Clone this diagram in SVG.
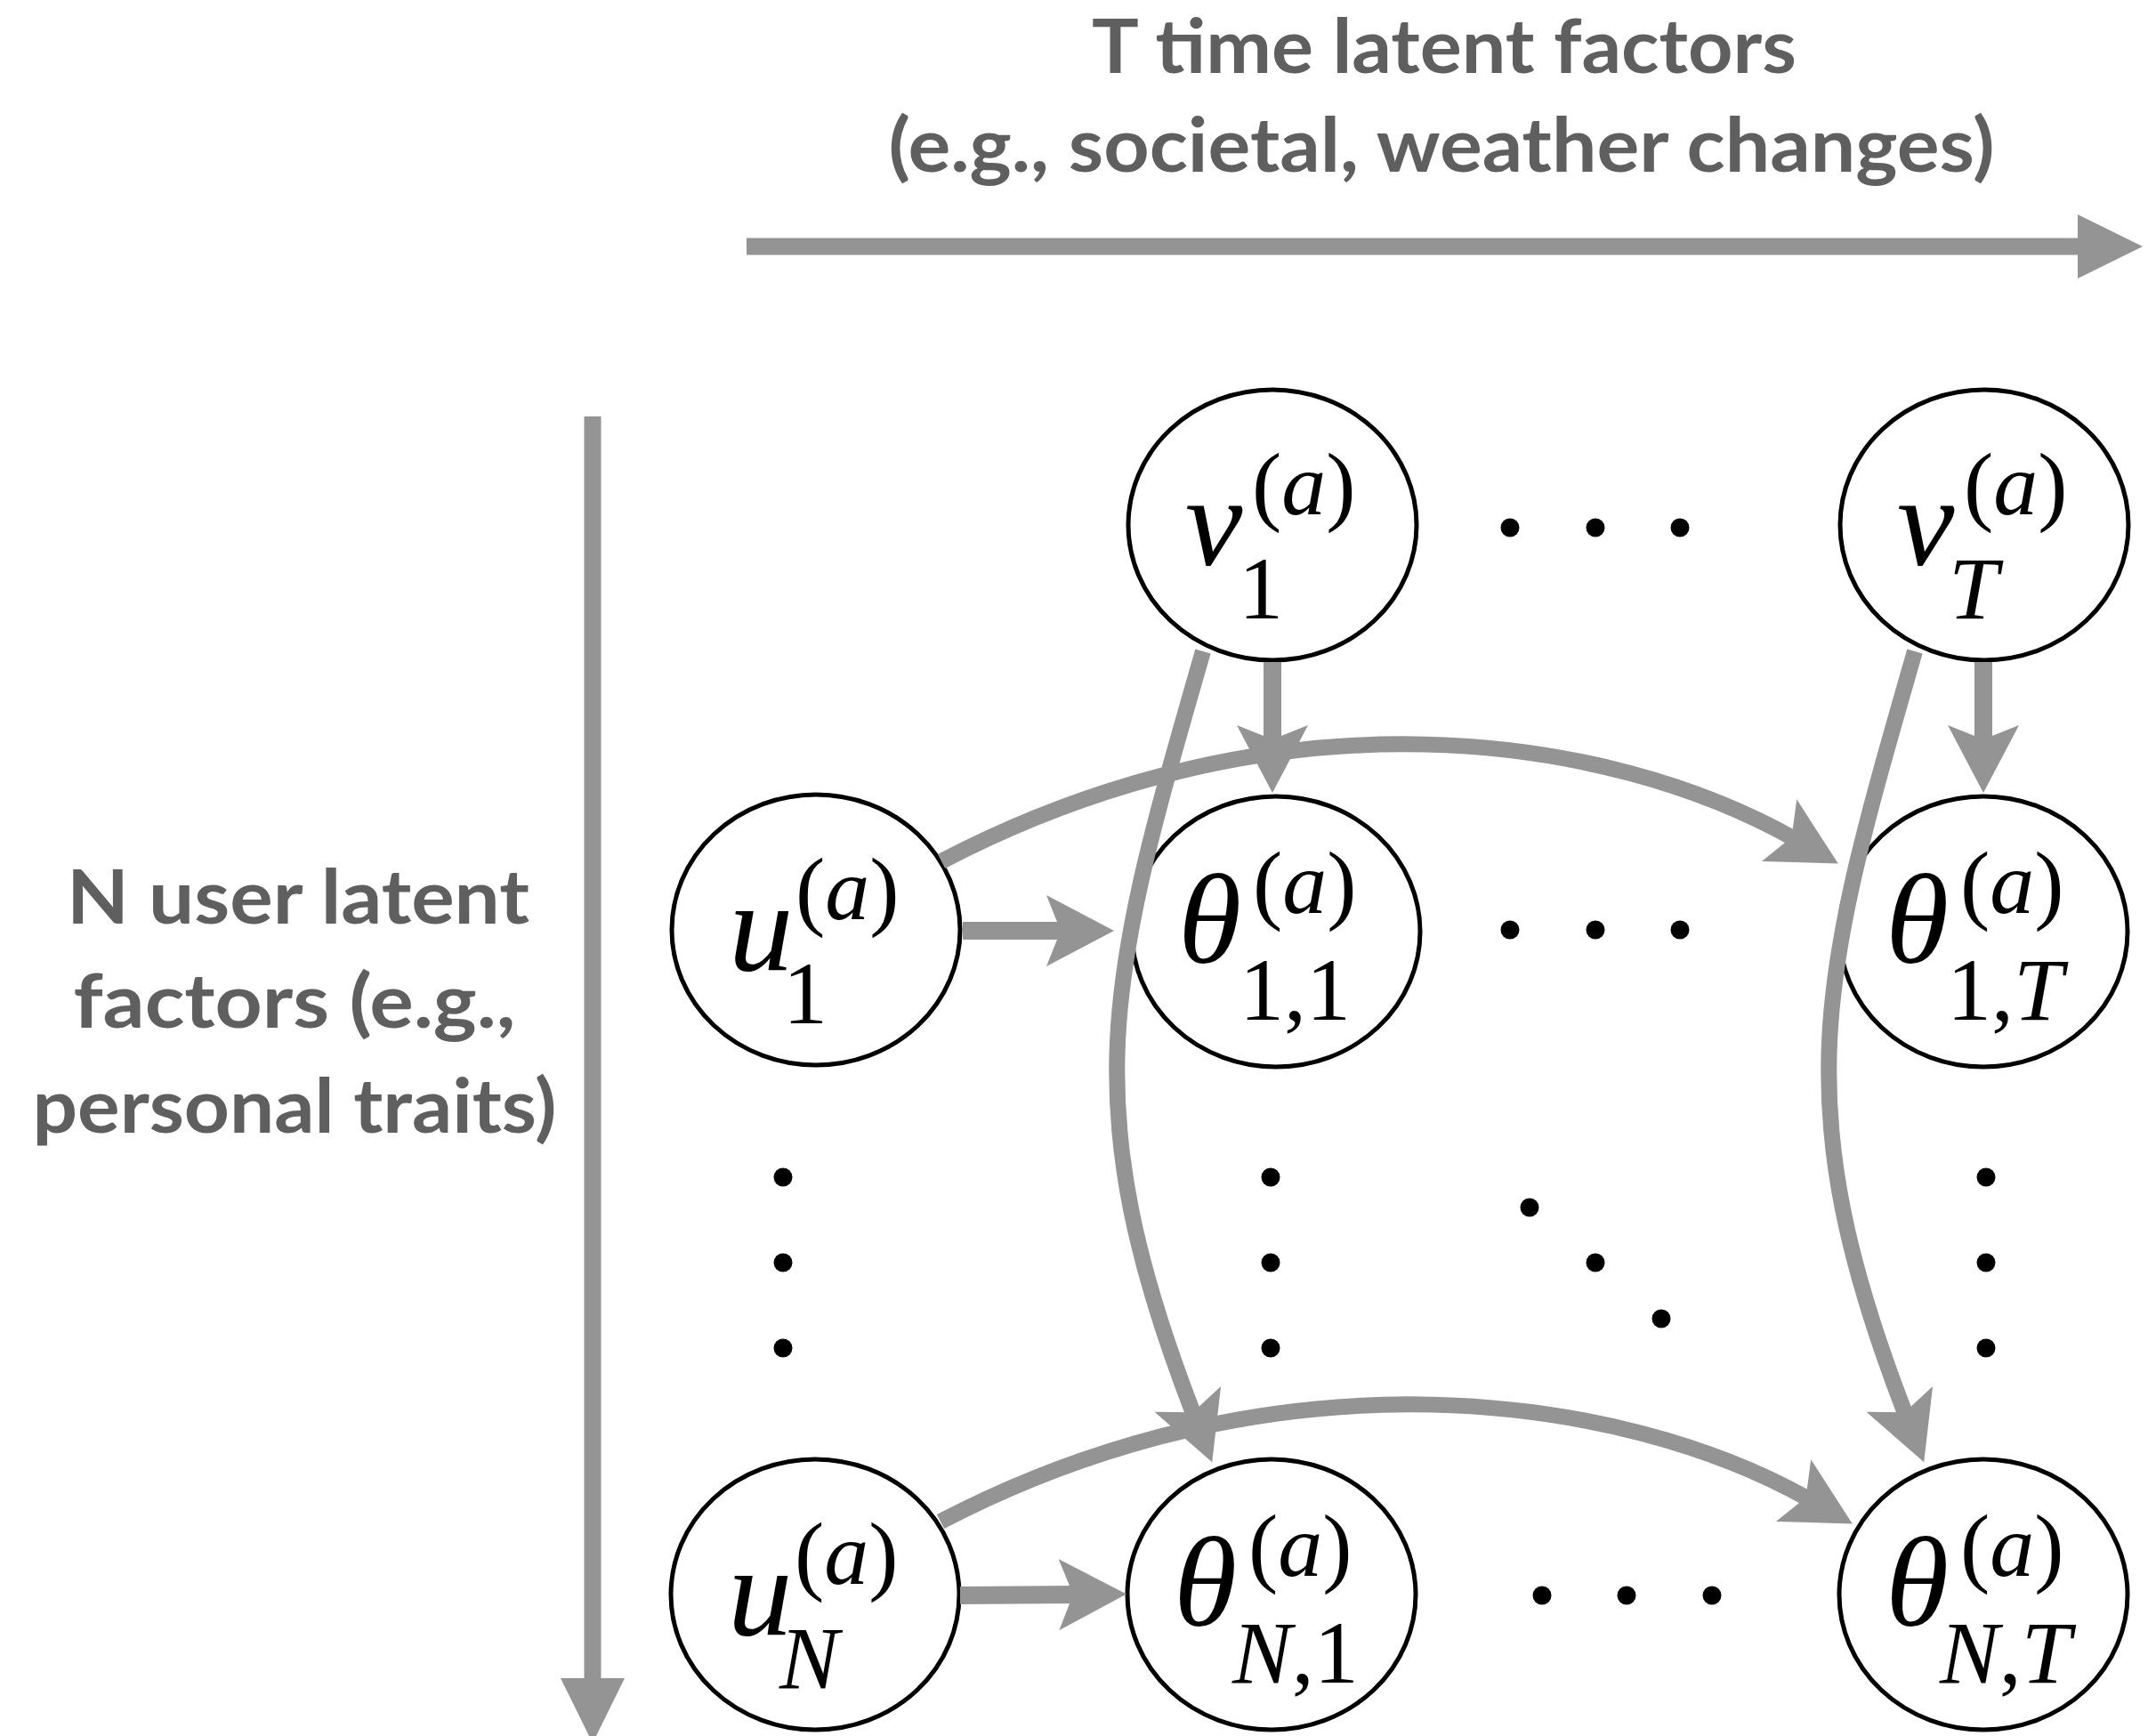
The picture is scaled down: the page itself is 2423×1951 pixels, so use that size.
<svg xmlns="http://www.w3.org/2000/svg" width="2423" height="1951" viewBox="0 0 2423 1951">
<defs>
<style>
.node ellipse{fill:#fff;stroke:#000;stroke-width:5}
.m{font-family:"Liberation Serif","Times New Roman",serif;font-style:italic;font-size:145px;fill:#000}
.s{font-family:"Liberation Serif","Times New Roman",serif;font-size:100px;fill:#000}
.i{font-style:italic}
.lbl{font-family:Lato,"Open Sans",sans-serif;font-weight:700;font-size:84px;fill:#5f5f5f;text-anchor:middle}
.edge{fill:none;stroke:#949494;stroke-width:18;marker-end:url(#head)}
.straight{stroke-width:20}
.axis{fill:none;stroke:#949494;stroke-width:19;marker-end:url(#tri)}
.dot{fill:#000}
</style>
<marker id="head" markerUnits="userSpaceOnUse" markerWidth="80" markerHeight="84" viewBox="0 -42 80 84" refX="20" refY="0" orient="auto">
<path d="M0,-40 L76,0 L0,40 L16,0 Z" fill="#949494"/>
</marker>
<marker id="tri" markerUnits="userSpaceOnUse" markerWidth="76" markerHeight="76" viewBox="0 -38 76 76" refX="1" refY="0" orient="auto">
<path d="M0,-36 L73,0 L0,36 Z" fill="#949494"/>
</marker>
</defs>
<rect width="2423" height="1951" fill="#fff"/>

<g id="axis-labels">
<text class="lbl" x="1623" y="82" textLength="792" lengthAdjust="spacingAndGlyphs">T time latent factors</text>
<text class="lbl" x="1620" y="193" textLength="1243" lengthAdjust="spacingAndGlyphs">(e.g., societal, weather changes)</text>
<text class="lbl" x="335" y="1038" textLength="520" lengthAdjust="spacingAndGlyphs">N user latent</text>
<text class="lbl" x="331" y="1155" textLength="497" lengthAdjust="spacingAndGlyphs">factors (e.g.,</text>
<text class="lbl" x="331" y="1273" textLength="589" lengthAdjust="spacingAndGlyphs">personal traits)</text>
</g>

<g id="axes">
<path class="axis" d="M839,277 L2336,277"/>
<path class="axis" d="M666,468 L666,1887"/>
</g>

<g id="nodes">
<g id="v1" class="node">
<ellipse cx="1430" cy="590" rx="162" ry="152"/>
<text class="m" x="1332" y="635">v</text>
<text class="s" x="1407" y="578">(<tspan class="i">a</tspan>)</text>
<text class="s" x="1392" y="695">1</text>
</g>
<g id="vT" class="node">
<ellipse cx="2230" cy="590" rx="162" ry="152"/>
<text class="m" x="2132" y="635">v</text>
<text class="s" x="2207" y="578">(<tspan class="i">a</tspan>)</text>
<text class="s i" x="2190" y="695">T</text>
</g>
<g id="u1" class="node">
<ellipse cx="917" cy="1045" rx="162" ry="152"/>
<text class="m" x="819" y="1090">u</text>
<text class="s" x="894" y="1033">(<tspan class="i">a</tspan>)</text>
<text class="s" x="880" y="1150">1</text>
</g>
<g id="theta11" class="node">
<ellipse cx="1434" cy="1047" rx="162" ry="152"/>
<text class="m" x="1324" y="1082">θ</text>
<text class="s" x="1408" y="1026">(<tspan class="i">a</tspan>)</text>
<text class="s" x="1393" y="1146">1,1</text>
</g>
<g id="theta1T" class="node">
<ellipse cx="2229" cy="1047" rx="162" ry="152"/>
<text class="m" x="2119" y="1082">θ</text>
<text class="s" x="2203" y="1026">(<tspan class="i">a</tspan>)</text>
<text class="s" x="2188" y="1146">1,<tspan class="i">T</tspan></text>
</g>
<g id="uN" class="node">
<ellipse cx="916" cy="1792" rx="162" ry="152"/>
<text class="m" x="818" y="1837">u</text>
<text class="s" x="893" y="1780">(<tspan class="i">a</tspan>)</text>
<text class="s i" x="876" y="1897">N</text>
</g>
<g id="thetaN1" class="node">
<ellipse cx="1429" cy="1792" rx="162" ry="152"/>
<text class="m" x="1319" y="1827">θ</text>
<text class="s" x="1403" y="1771">(<tspan class="i">a</tspan>)</text>
<text class="s" x="1385" y="1891"><tspan class="i">N</tspan>,1</text>
</g>
<g id="thetaNT" class="node">
<ellipse cx="2229" cy="1792" rx="162" ry="152"/>
<text class="m" x="2119" y="1827">θ</text>
<text class="s" x="2203" y="1771">(<tspan class="i">a</tspan>)</text>
<text class="s" x="2180" y="1891"><tspan class="i">N</tspan>,<tspan class="i">T</tspan></text>
</g>
</g>

<g id="ellipsis-dots">
<circle class="dot" cx="1697" cy="593" r="10.5"/>
<circle class="dot" cx="1793" cy="593" r="10.5"/>
<circle class="dot" cx="1888" cy="593" r="10.5"/>
<circle class="dot" cx="1697" cy="1045" r="10.5"/>
<circle class="dot" cx="1793" cy="1045" r="10.5"/>
<circle class="dot" cx="1888" cy="1045" r="10.5"/>
<circle class="dot" cx="1733" cy="1793" r="10.5"/>
<circle class="dot" cx="1828" cy="1793" r="10.5"/>
<circle class="dot" cx="1924" cy="1793" r="10.5"/>
<circle class="dot" cx="880" cy="1323" r="10.5"/>
<circle class="dot" cx="880" cy="1419" r="10.5"/>
<circle class="dot" cx="880" cy="1515" r="10.5"/>
<circle class="dot" cx="1428" cy="1323" r="10.5"/>
<circle class="dot" cx="1428" cy="1419" r="10.5"/>
<circle class="dot" cx="1428" cy="1515" r="10.5"/>
<circle class="dot" cx="2232" cy="1323" r="10.5"/>
<circle class="dot" cx="2232" cy="1419" r="10.5"/>
<circle class="dot" cx="2232" cy="1515" r="10.5"/>
<circle class="dot" cx="1719" cy="1357" r="10.5"/>
<circle class="dot" cx="1793" cy="1419" r="10.5"/>
<circle class="dot" cx="1867" cy="1482" r="10.5"/>
</g>

<g id="connectors">
<path class="edge straight" d="M1082,1046 L1196,1046"/>
<path class="edge straight" d="M1079,1793 L1210,1792"/>
<path class="edge straight" d="M1430,744 L1430,835"/>
<path class="edge straight" d="M2229,744 L2229,835"/>
<path class="edge" d="M1058,968 C1439,769 1808,825 2017,943"/>
<path class="edge" d="M1057,1710 C1438,1511 1824,1567 2033,1685"/>
<path class="edge" d="M1352,732 C1247,1097 1205,1237 1342,1591"/>
<path class="edge" d="M2152,732 C2047,1097 2005,1237 2142,1591"/>
</g>
</svg>
